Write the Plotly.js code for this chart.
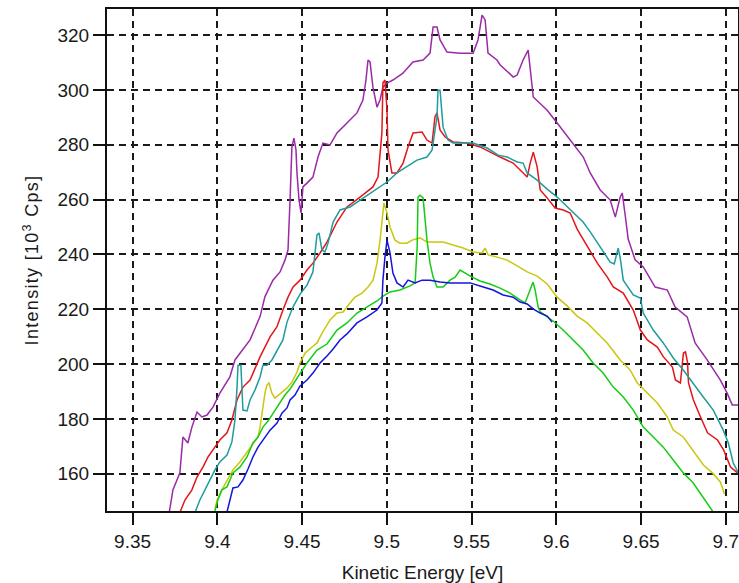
<!DOCTYPE html>
<html>
<head>
<meta charset="utf-8">
<script src="https://cdn.plot.ly/plotly-3.0.1.min.js"></script>
<style>
html,body{margin:0;padding:0;background:#fff;}
#chart{width:739px;height:583px;}
#chart .ytitle{letter-spacing:1.3px;}
</style>
</head>
<body>
<div id="chart"></div>
<script>
// ---- data ----
const purpleX = [9.3714,9.3738,9.3779,9.3797,9.3826,9.3850,9.3880,9.3909,9.3939,9.3974,9.4015,9.4074,9.4104,9.4133,9.4193,9.4252,9.4281,9.4328,9.4370,9.4399,9.4417,9.4429,9.4440,9.4452,9.4464,9.4470,9.4482,9.4494,9.4505,9.4529,9.4564,9.4594,9.4623,9.4665,9.4706,9.4765,9.4824,9.4859,9.4877,9.4889,9.4901,9.4918,9.4942,9.4960,9.4977,9.5001,9.5036,9.5095,9.5154,9.5214,9.5255,9.5273,9.5296,9.5314,9.5355,9.5432,9.5509,9.5538,9.5562,9.5580,9.5597,9.5650,9.5669,9.5746,9.5769,9.5804,9.5834,9.5864,9.5946,9.6005,9.6082,9.6159,9.6200,9.6259,9.6318,9.6348,9.6377,9.6389,9.6407,9.6424,9.6465,9.6513,9.6583,9.6655,9.6701,9.6772,9.6819,9.6890,9.6967,9.7008,9.7038,9.7073];
const purpleY = [145.0,154.1,160.3,173.4,171.2,177.0,182.5,180.7,181.4,184.3,189.4,195.3,201.5,204.0,208.8,217.3,224.6,230.6,233.6,237.9,241.6,259.8,279.2,282.4,278.1,269.7,259.8,255.1,264.6,266.0,268.2,275.5,280.6,279.9,284.3,287.9,291.6,296.3,303.6,310.9,310.2,301.0,293.7,296.3,301.0,302.5,303.6,306.1,310.2,310.9,313.4,322.9,322.9,318.2,313.8,313.4,313.4,318.2,327.3,325.5,313.4,310.9,309.1,304.7,305.4,310.9,314.5,297.4,292.6,287.9,281.7,275.5,269.7,263.5,259.8,253.6,260.9,262.4,254.0,245.6,238.0,235.4,228.1,227.0,220.8,217.2,207.7,201.5,194.2,189.4,185.1,185.1];

const redX = [9.3780,9.3809,9.3850,9.3880,9.3915,9.3945,9.3974,9.4015,9.4057,9.4086,9.4116,9.4151,9.4193,9.4252,9.4311,9.4352,9.4387,9.4417,9.4447,9.4488,9.4529,9.4564,9.4606,9.4647,9.4706,9.4765,9.4842,9.4918,9.4948,9.4971,9.4977,9.4989,9.5001,9.5007,9.5030,9.5060,9.5096,9.5125,9.5155,9.5208,9.5237,9.5267,9.5284,9.5296,9.5314,9.5344,9.5391,9.5474,9.5550,9.5609,9.5668,9.5745,9.5828,9.5846,9.5864,9.5887,9.5905,9.5946,9.5993,9.6041,9.6082,9.6123,9.6183,9.6242,9.6301,9.6336,9.6395,9.6454,9.6496,9.6537,9.6596,9.6632,9.6685,9.6703,9.6732,9.6750,9.6762,9.6774,9.6780,9.6809,9.6851,9.6892,9.6951,9.6987,9.7028,9.7069];
const redY = [146.0,150.4,154.1,158.8,162.4,166.1,168.7,172.3,174.9,179.6,186.9,191.6,194.2,202.6,209.9,213.6,219.7,224.4,228.1,230.6,234.3,236.8,240.5,244.5,251.8,257.3,260.9,264.6,268.2,284.3,302.5,303.6,292.6,278.1,269.7,269.7,273.3,279.2,284.3,284.6,281.7,280.6,290.1,291.6,285.4,282.8,281.0,280.6,279.2,277.3,275.5,273.3,268.2,273.3,277.3,271.9,263.5,260.6,256.9,256.2,255.1,249.2,242.7,236.8,231.7,228.1,225.9,219.7,212.4,208.8,206.2,202.6,198.9,194.2,193.1,204.0,204.4,200.7,193.1,186.9,180.7,174.9,172.3,168.7,162.4,160.3];

const tealX = [9.3869,9.3897,9.3927,9.3956,9.3986,9.4015,9.4057,9.4086,9.4104,9.4116,9.4122,9.4139,9.4145,9.4151,9.4175,9.4193,9.4222,9.4252,9.4269,9.4293,9.4322,9.4352,9.4387,9.4411,9.4446,9.4488,9.4529,9.4564,9.4588,9.4600,9.4617,9.4635,9.4653,9.4683,9.4724,9.4783,9.4842,9.4901,9.4960,9.5001,9.5060,9.5119,9.5178,9.5237,9.5267,9.5296,9.5302,9.5314,9.5332,9.5361,9.5391,9.5432,9.5509,9.5592,9.5657,9.5710,9.5769,9.5804,9.5828,9.5887,9.5946,9.6005,9.6064,9.6123,9.6158,9.6200,9.6259,9.6318,9.6342,9.6365,9.6377,9.6395,9.6454,9.6496,9.6513,9.6572,9.6631,9.6690,9.6749,9.6808,9.6867,9.6926,9.6985,9.7015,9.7044,9.7074];
const tealY = [146.0,150.4,154.1,157.7,161.4,164.3,166.8,171.6,179.6,191.3,199.6,199.6,192.4,183.2,182.9,186.9,190.5,195.3,199.6,199.6,201.5,205.1,208.8,215.3,220.8,225.5,228.8,233.6,247.1,247.8,241.6,240.9,244.1,251.8,256.2,257.3,259.8,262.4,264.6,266.4,269.7,271.9,274.4,275.5,278.1,290.1,299.9,299.9,286.4,281.7,280.6,280.6,280.6,278.8,276.2,275.5,273.7,273.3,269.7,267.1,263.8,260.9,257.3,253.6,251.8,248.2,242.7,237.2,236.5,242.3,238.7,230.6,225.2,224.1,218.6,212.4,207.7,202.2,197.8,193.1,188.0,183.2,175.9,171.2,163.9,160.3];

const yellowX = [9.3986,9.3998,9.4027,9.4057,9.4092,9.4133,9.4175,9.4210,9.4240,9.4252,9.4263,9.4281,9.4293,9.4305,9.4322,9.4340,9.4370,9.4411,9.4441,9.4470,9.4488,9.4518,9.4559,9.4588,9.4618,9.4665,9.4706,9.4742,9.4783,9.4812,9.4854,9.4889,9.4919,9.4942,9.4960,9.4977,9.4983,9.5001,9.5019,9.5048,9.5078,9.5119,9.5149,9.5196,9.5237,9.5273,9.5332,9.5391,9.5450,9.5509,9.5562,9.5580,9.5598,9.5651,9.5710,9.5769,9.5828,9.5887,9.5946,9.6005,9.6064,9.6123,9.6182,9.6241,9.6300,9.6377,9.6436,9.6478,9.6537,9.6596,9.6655,9.6690,9.6749,9.6791,9.6832,9.6868,9.6921,9.6968,9.6992];
const yellowY = [146.8,150.4,154.1,157.3,161.4,164.3,167.9,170.5,173.4,177.0,182.5,189.4,192.4,193.1,189.4,187.6,189.1,191.3,193.5,197.1,200.4,204.0,206.2,207.7,211.3,216.1,218.6,219.0,222.3,224.4,225.9,228.1,230.6,236.8,245.2,255.1,258.7,255.1,250.0,245.2,244.1,244.1,245.2,246.0,244.5,244.5,244.5,243.4,242.3,240.9,240.5,242.3,239.8,239.0,237.9,235.8,233.6,232.1,229.2,224.4,221.2,217.5,215.0,211.3,207.7,201.5,197.8,193.1,189.4,185.8,180.7,175.9,173.4,169.7,166.1,163.2,160.3,157.0,152.6];

const greenX = [9.3986,9.4003,9.4027,9.4057,9.4092,9.4133,9.4175,9.4210,9.4240,9.4269,9.4299,9.4328,9.4370,9.4399,9.4429,9.4476,9.4529,9.4588,9.4647,9.4706,9.4765,9.4824,9.4883,9.4942,9.4978,9.5019,9.5078,9.5137,9.5167,9.5179,9.5184,9.5196,9.5214,9.5237,9.5255,9.5273,9.5296,9.5332,9.5373,9.5403,9.5432,9.5462,9.5503,9.5550,9.5609,9.5668,9.5727,9.5786,9.5816,9.5845,9.5863,9.5875,9.5893,9.5905,9.5946,9.5981,9.6040,9.6099,9.6158,9.6217,9.6276,9.6336,9.6395,9.6454,9.6513,9.6572,9.6631,9.6690,9.6749,9.6808,9.6867,9.6926];
const greenY = [146.4,150.4,154.1,155.2,160.3,162.4,166.1,171.2,173.4,177.0,179.2,182.1,186.2,188.7,190.9,195.3,200.4,205.1,207.3,212.4,215.0,218.6,220.8,223.0,224.8,226.3,227.0,228.5,229.6,242.7,260.9,261.6,260.6,245.2,236.8,231.7,228.1,228.1,230.6,231.7,234.3,233.2,231.7,230.3,229.2,227.7,225.9,223.4,222.3,227.0,229.9,227.0,220.8,219.0,217.2,215.7,212.4,208.8,205.1,200.4,196.7,191.6,188.0,183.2,177.0,173.4,169.7,165.0,160.3,156.6,151.5,146.0];

const blueX = [9.4057,9.4074,9.4092,9.4122,9.4151,9.4181,9.4210,9.4240,9.4269,9.4311,9.4352,9.4381,9.4411,9.4429,9.4458,9.4488,9.4529,9.4564,9.4606,9.4647,9.4683,9.4724,9.4765,9.4824,9.4883,9.4942,9.4971,9.4977,9.4989,9.5001,9.5019,9.5036,9.5060,9.5096,9.5125,9.5167,9.5208,9.5255,9.5314,9.5373,9.5432,9.5491,9.5550,9.5627,9.5686,9.5745,9.5786,9.5828,9.5863,9.5905,9.5946,9.5975];
const blueY = [146.0,150.8,154.8,155.2,157.7,161.7,166.1,169.7,172.3,175.9,178.5,182.1,184.0,186.9,188.7,192.0,194.2,196.7,200.4,202.9,205.5,208.8,211.0,215.0,217.2,219.7,222.3,230.6,239.0,245.2,240.5,233.2,229.6,228.1,230.6,229.6,230.6,230.6,229.9,229.6,229.6,229.6,228.5,227.0,225.2,224.4,222.6,221.9,220.1,218.6,217.5,215.3];

const xTickVals = [9.35, 9.4, 9.45, 9.5, 9.55, 9.6, 9.65, 9.7];
const xTickLabels = ["9.35", "9.4", "9.45", "9.5", "9.55", "9.6", "9.65", "9.7"];
const yTickVals = [160, 180, 200, 220, 240, 260, 280, 300, 320];
const yTickLabels = ["160", "180", "200", "220", "240", "260", "280", "300", "320"];

// ---- drawing ----
function line(x, y, color) {
  return {x: x, y: y, type: 'scatter', mode: 'lines', line: {color: color, width: 1.5, shape: 'linear'}, hoverinfo: 'skip', showlegend: false};
}
const traces = [
  line(purpleX, purpleY, '#9a2aa6'),
  line(redX, redY, '#e3161a'),
  line(tealX, tealY, '#1f9c9c'),
  line(yellowX, yellowY, '#c9c70e'),
  line(greenX, greenY, '#15cc15'),
  line(blueX, blueY, '#1414dc')
];

const fontFam = '"Liberation Sans", Arial, sans-serif';
const axisCommon = {
  ticks: 'outside', ticklen: 12, tickwidth: 2, tickcolor: '#111',
  showline: true, linecolor: '#111', linewidth: 2, mirror: true,
  showgrid: true, gridcolor: '#1a1a1a', gridwidth: 2, griddash: '7px,5px',
  zeroline: false, ticklabeloverflow: 'allow',
  tickfont: {family: fontFam, size: 19, color: '#1a1a1a'}
};
const layout = {
  width: 739, height: 583,
  margin: {l: 107, r: 1, t: 9, b: 72, pad: 0},
  paper_bgcolor: '#ffffff', plot_bgcolor: '#ffffff',
  font: {family: fontFam, size: 19, color: '#1a1a1a'},
  showlegend: false,
  xaxis: Object.assign({}, axisCommon, {
    range: [9.3349, 9.7072],
    tickmode: 'array', tickvals: xTickVals, ticktext: xTickLabels,
    title: {text: 'Kinetic Energy [eV]', font: {family: fontFam, size: 19, color: '#1a1a1a'}, standoff: 18}
  }),
  yaxis: Object.assign({}, axisCommon, {
    range: [146.4, 329.5],
    tickmode: 'array', tickvals: yTickVals, ticktext: yTickLabels,
    title: {text: 'Intensity [10<sup>3</sup> Cps]', font: {family: fontFam, size: 18, color: '#1a1a1a'}, standoff: 14}
  })
};

Plotly.newPlot('chart', traces, layout, {displayModeBar: false, staticPlot: true});
</script>
</body>
</html>
